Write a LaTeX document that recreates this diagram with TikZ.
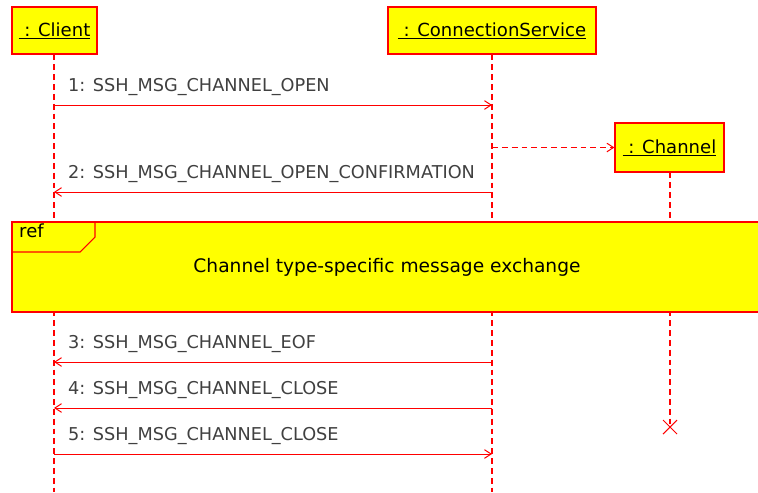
\documentclass[tikz,border=0pt]{standalone}
\usepackage{fontspec}
\setmainfont{DejaVu Sans}
\usetikzlibrary{arrows.meta}
\definecolor[named]{SeqRed}{rgb}{1,0,0}
\definecolor[named]{SeqYellow}{rgb}{1,1,0}
\definecolor[named]{SeqText}{rgb}{0.25,0.25,0.25}
\newcommand{\obj}[1]{\underline{~: #1}}
\tikzset{
  lifehead/.style={draw=SeqRed, fill=SeqYellow, line width=1pt,
    inner sep=0pt, minimum height=1.41cm, text=black},
  lifeline/.style={SeqRed, line width=0.9pt, dash pattern=on 5pt off 3.4pt},
  msg/.style={SeqRed, line width=0.85pt,
    -{Straight Barb[length=0.2cm,width=0.26cm]}},
  create/.style={msg, dash pattern=on 5pt off 3.4pt},
  msglabel/.style={anchor=base west, inner sep=0pt, text=SeqText,
    font=\fontsize{15.1}{18}\selectfont},
  frame/.style={draw=SeqRed, fill=SeqYellow, line width=1pt}
}

\begin{document}
\begin{tikzpicture}[x=0.03cm,y=-0.03cm]
  \fontsize{15.4}{18}\selectfont
  \clip (0,0) rectangle (758,492);
  \fill[white] (0,0) rectangle (758,492);

  % heads
  \node[lifehead, minimum width=2.55cm] (client) at (54.5,30.5) {\obj{Client}};
  \node[lifehead, minimum width=6.24cm] (service) at (492,30.5) {\obj{ConnectionService}};
  \node[lifehead, minimum width=3.27cm, minimum height=1.47cm] (channel) at (669.5,147.5) {\obj{Channel}};

  % lifelines
  \coordinate (clientend) at (54,492);
  \coordinate (serviceend) at (492,492);
  \coordinate (kill) at (670,427);
  \draw[lifeline] (client.south -| clientend) -- (clientend);
  \draw[lifeline] (service.south) -- (serviceend);
  \draw[lifeline] (channel.south -| kill) -- (kill);
  \draw[SeqRed, line width=0.9pt] (kill) ++(-7,-7) -- ++(14,14)
    (kill) ++(7,-7) -- ++(-14,14);

  % message ends
  \foreach \n/\y in {1/105,2/192,3/362,4/408,5/454} {
    \coordinate (cl\n) at (54,\y);
    \coordinate (cs\n) at (492,\y);
  }

  \node[msglabel] (lab1) at (68,91) {1: SSH\_MSG\_CHANNEL\_OPEN};
  \draw[msg] (cl1) -- (cs1);
  \draw[create] (service |- channel) -- (channel.west);
  \node[msglabel] (lab2) at (68,178) {2: SSH\_MSG\_CHANNEL\_OPEN\_CONFIRMATION};
  \draw[msg] (cs2) -- (cl2);

  % interaction use
  \draw[frame] (12,222) rectangle (770,312);
  \draw[SeqRed, line width=0.9pt] (12,252) -- (80,252) -- (95,237) -- (95,222);
  \node[anchor=base west, inner sep=0pt] (reftag) at (19,237) {ref};
  \node[inner sep=0pt, font=\fontsize{15.9}{18}\selectfont] (refbody) at (387,267) {Channel type-specific message exchange};

  \node[msglabel] (lab3) at (68,348) {3: SSH\_MSG\_CHANNEL\_EOF};
  \draw[msg] (cs3) -- (cl3);
  \node[msglabel] (lab4) at (68,394) {4: SSH\_MSG\_CHANNEL\_CLOSE};
  \draw[msg] (cs4) -- (cl4);
  \node[msglabel] (lab5) at (68,440) {5: SSH\_MSG\_CHANNEL\_CLOSE};
  \draw[msg] (cl5) -- (cs5);
\end{tikzpicture}
\end{document}
